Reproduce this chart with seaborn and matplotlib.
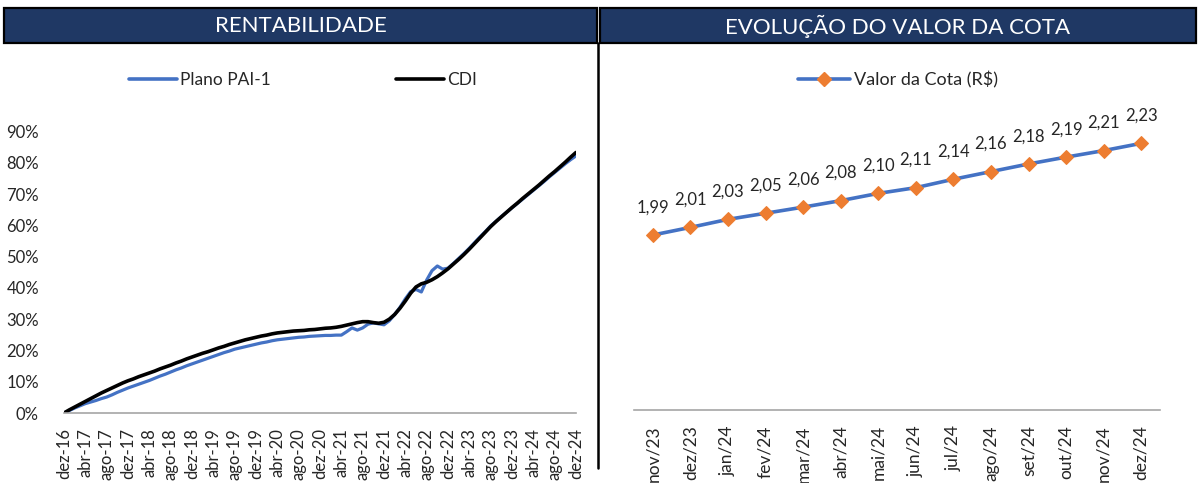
import numpy as np
import pandas as pd
import matplotlib
matplotlib.use("Agg")
import matplotlib.pyplot as plt
from matplotlib.patches import Rectangle
from matplotlib.lines import Line2D
import seaborn as sns

# rentabilidade acumulada (%), mensal de dez-16 a dez-24
meses_pt = ["jan", "fev", "mar", "abr", "mai", "jun", "jul", "ago", "set", "out", "nov", "dez"]
plano_pai = [0, 0.8, 1.6, 2.3, 3.0, 3.5, 4.0, 4.6, 5.1, 5.8, 6.6, 7.3, 8.0,
             8.6, 9.2, 9.8, 10.4, 11.1, 11.8, 12.4, 13.1, 13.8, 14.4, 15.1, 15.7,
             16.3, 16.9, 17.5, 18.1, 18.7, 19.3, 19.8, 20.4, 20.8, 21.2, 21.6, 22.0,
             22.4, 22.7, 23.1, 23.4, 23.6, 23.8, 24.0, 24.2, 24.3, 24.5, 24.6, 24.7,
             24.8, 24.8, 24.9, 24.9, 26.0, 27.2, 26.5, 27.2, 28.4, 28.8, 28.5, 28.2,
             29.5, 31.5, 33.8, 36.5, 38.8, 39.5, 38.7, 42.5, 45.5, 47.0, 46.0, 46.3,
             47.8, 49.4, 51.0, 52.7, 54.5, 56.3, 58.0, 59.8, 61.3, 62.8, 64.2, 65.6,
             67.0, 68.4, 69.8, 71.2, 72.6, 74.0, 75.5, 76.9, 78.3, 79.7, 81.0, 82.2]
cdi = [0, 1.0, 1.9, 2.8, 3.7, 4.6, 5.5, 6.4, 7.2, 8.0, 8.8, 9.6, 10.3,
       10.9, 11.6, 12.2, 12.8, 13.4, 14.1, 14.7, 15.3, 16.0, 16.6, 17.3, 17.9,
       18.5, 19.1, 19.6, 20.2, 20.8, 21.3, 21.9, 22.4, 22.9, 23.4, 23.8, 24.2,
       24.6, 24.9, 25.3, 25.6, 25.8, 26.0, 26.2, 26.3, 26.4, 26.6, 26.7, 26.9,
       27.1, 27.2, 27.4, 27.7, 28.1, 28.5, 28.9, 29.2, 29.2, 28.9, 28.7, 29.0,
       30.0, 31.5, 33.5, 35.8, 38.3, 40.3, 41.3, 41.8, 42.6, 43.6, 44.8, 46.1,
       47.6, 49.1, 50.7, 52.4, 54.2, 56.0, 57.8, 59.6, 61.2, 62.7, 64.2, 65.7,
       67.1, 68.6, 70.0, 71.4, 72.8, 74.3, 75.8, 77.2, 78.7, 80.2, 81.8, 83.3]

# valor da cota (R$) - rótulos mostram 2 casas
cota_meses = ["nov/23", "dez/23", "jan/24", "fev/24", "mar/24", "abr/24", "mai/24",
              "jun/24", "jul/24", "ago/24", "set/24", "out/24", "nov/24", "dez/24"]
cota_valor = [1.990, 2.010, 2.031, 2.047, 2.063, 2.080, 2.099,
              2.114, 2.136, 2.156, 2.176, 2.194, 2.211, 2.230]

datas = pd.date_range("2016-12-01", periods=len(cdi), freq="MS")
rotulos = [f"{meses_pt[d.month - 1]}-{d.strftime('%y')}" for d in datas]
df_rent = pd.DataFrame({"mes": np.arange(len(cdi)), "Plano PAI-1": plano_pai, "CDI": cdi})
df_cota = pd.DataFrame({"mes": cota_meses, "valor": cota_valor})

sns.set_theme(style="white")
plt.rcParams["font.family"] = ["Lato", "DejaVu Sans"]

AZUL = "#4472C4"
LARANJA = "#ED7D31"
NAVY = "#1F3864"
W, H = 1198, 483

fig = plt.figure(figsize=(W / 100, H / 100), dpi=100)


def px_axes(x0, y0, x1, y1):
    return fig.add_axes([x0 / W, 1 - y1 / H, (x1 - x0) / W, (y1 - y0) / H])


# barras de título
for x0, x1, txt in [(4, 597, "RENTABILIDADE"), (600, 1196, "EVOLUÇÃO DO VALOR DA COTA")]:
    fig.patches.append(Rectangle((x0 / W, 1 - 43 / H), (x1 - x0) / W, 35 / H,
                                 transform=fig.transFigure, facecolor=NAVY,
                                 edgecolor="black", linewidth=1.6))
    fig.text((x0 + x1) / 2 / W, 1 - 26 / H, txt, color="white", fontsize=16,
             ha="center", va="center")
fig.add_artist(Line2D([598 / W, 598 / W], [1 - 43 / H, 1 - 468 / H],
                      transform=fig.transFigure, color="black", lw=1.8))

# rentabilidade
ax1 = px_axes(64, 131.5, 576, 413)
sns.lineplot(data=df_rent, x="mes", y="Plano PAI-1", ax=ax1, color=AZUL, lw=2.3)
sns.lineplot(data=df_rent, x="mes", y="CDI", ax=ax1, color="black", lw=2.6)
ax1.set_xlim(0, len(cdi) - 1)
ax1.set_ylim(0, 90)
ax1.set_yticks(np.arange(0, 91, 10))
ax1.set_yticklabels([f"{v}%" for v in range(0, 91, 10)], fontsize=12)
ax1.set_xticks(df_rent["mes"][::4])
ax1.set_xticklabels(rotulos[::4], rotation=90, fontsize=12)
ax1.tick_params(axis="y", pad=18, length=0)
ax1.tick_params(axis="x", pad=11, length=0)
ax1.set_xlabel("")
ax1.set_ylabel("")
for s in ["top", "right", "left"]:
    ax1.spines[s].set_visible(False)
ax1.spines["bottom"].set_color("#A6A6A6")
ax1.spines["bottom"].set_linewidth(1.2)
leg_handles = [Line2D([], [], color=AZUL, lw=2.6), Line2D([], [], color="black", lw=2.6)]
fig.legend(leg_handles, ["Plano PAI-1", "CDI"], loc="center", bbox_to_anchor=(303 / W, 1 - 80 / H),
           ncol=2, frameon=False, fontsize=12.5, handlelength=2.75, handletextpad=0.2,
           columnspacing=7.2)

# valor da cota
ax2 = px_axes(634, 95.6, 1160, 410)
sns.lineplot(data=df_cota, x="mes", y="valor", ax=ax2, color=AZUL, lw=2.6,
             marker="D", markersize=7, markerfacecolor=LARANJA, markeredgecolor=LARANJA,
             sort=False)
ax2.set_xlim(-0.5, len(cota_meses) - 0.5)
ax2.set_ylim(1.532, 2.355)
ax2.set_yticks([])
for i, v in enumerate(cota_valor):
    ax2.annotate(f"{v:.2f}".replace(".", ","), (i, v), xytext=(0, 20),
                 textcoords="offset points", ha="center", va="center", fontsize=12)
ax2.set_xticks(range(len(cota_meses)))
ax2.set_xticklabels(cota_meses, rotation=90, fontsize=12.5)
ax2.tick_params(axis="x", pad=11, length=0)
ax2.set_xlabel("")
ax2.set_ylabel("")
for s in ["top", "right", "left"]:
    ax2.spines[s].set_visible(False)
ax2.spines["bottom"].set_color("#A6A6A6")
ax2.spines["bottom"].set_linewidth(1.2)
fig.legend([Line2D([], [], color=AZUL, lw=2.6, marker="D", markersize=7,
                   markerfacecolor=LARANJA, markeredgecolor=LARANJA)],
           ["Valor da Cota (R$)"], loc="center", bbox_to_anchor=(898 / W, 1 - 80 / H),
           frameon=False, fontsize=13, handlelength=2.9, handletextpad=0.2)

fig.savefig("out.png", dpi=100)
